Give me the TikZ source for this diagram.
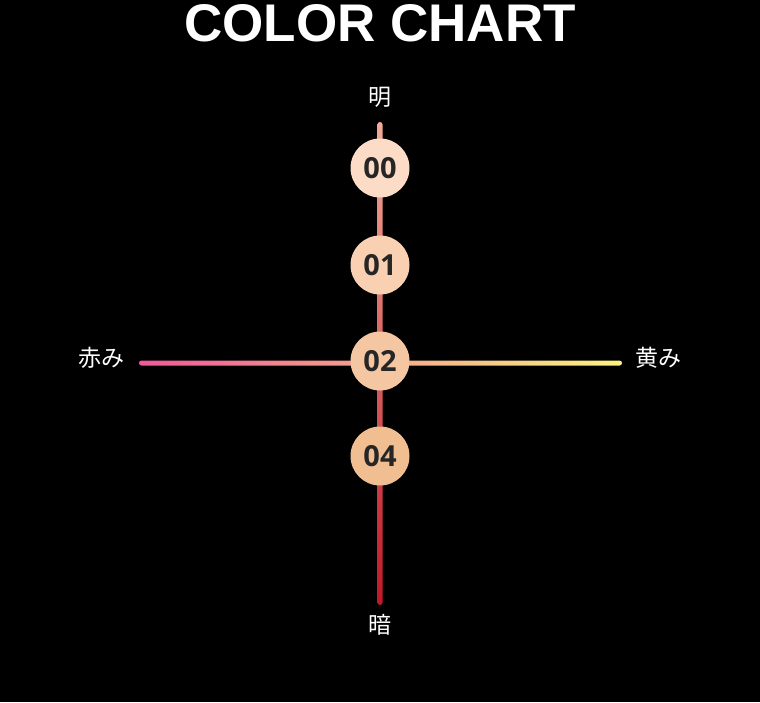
\documentclass[tikz,border=0pt]{standalone}
\usepackage{fontspec}
\setmainfont{Liberation Sans}
\newfontfamily\cjk{Noto Sans CJK JP}
\newfontfamily\numfont{Open Sans}
\definecolor{tone00}{HTML}{FCDCC6}
\definecolor{tone01}{HTML}{F9D0B2}
\definecolor{tone02}{HTML}{F5C6A2}
\definecolor{tone04}{HTML}{F1BE91}
\definecolor{litecol}{HTML}{F0AA96}
\definecolor{darkcol}{HTML}{C0182A}
\definecolor{redcol}{HTML}{F0589A}
\definecolor{midcol}{HTML}{F798A4}
\definecolor{yellowcol}{HTML}{FAF47E}
\begin{document}
\begin{tikzpicture}[x=1pt, y=-1pt,
    tone/.style={circle, minimum size=59pt, inner sep=0pt, font=\numfont\bfseries\fontsize{29}{29}\selectfont, text=black!85},
    axislabel/.style={text=white, font=\cjk\fontsize{23}{23}\selectfont, inner sep=0pt}]
    % Background
    \fill[black] (0,0) rectangle (760,702);
    \node[text=white, font=\bfseries\fontsize{53}{53}\selectfont] (title) at (380,23) {COLOR CHART};
    % Axis ends
    \coordinate (top) at (380,122);
    \coordinate (bottom) at (380,605);
    \coordinate (left) at (139,363);
    \coordinate (right) at (622,363);
    % Axes
    \shade[top color=litecol, bottom color=darkcol, rounded corners=2.5pt] ([xshift=-2.5pt]top) rectangle ([xshift=2.5pt]bottom);
    \shade[left color=redcol, middle color=midcol, right color=yellowcol, rounded corners=2.5pt] ([yshift=-2.5pt]left) rectangle ([yshift=2.5pt]right);
    % Tones
    \node[tone, fill=tone00] (t00) at (380,168) {00};
    \node[tone, fill=tone01] (t01) at (380,265) {01};
    \node[tone, fill=tone02] (t02) at (380,361) {02};
    \node[tone, fill=tone04] (t04) at (380,456) {04};
    % Labels
    \node[axislabel] (light) at (380,97) {明};
    \node[axislabel] (dark) at (380,625) {暗};
    \node[axislabel] (reddish) at (101,358) {赤み};
    \node[axislabel] (yellowish) at (658,358) {黄み};
\end{tikzpicture}
\end{document}
